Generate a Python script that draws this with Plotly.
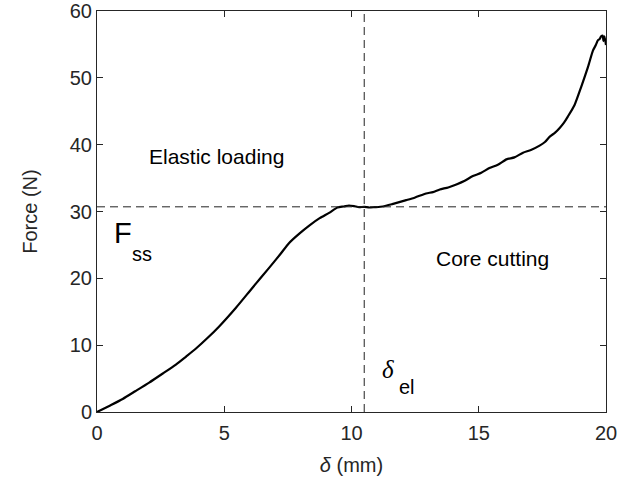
import plotly.graph_objects as go

# Force-displacement curve
delta_mm = [0, 0.5, 1.01, 1.5, 2.05, 2.6, 3.1, 3.5, 3.89, 4.35, 4.8, 5.46, 6.11, 6.77, 7.2, 7.55,
            7.95, 8.34, 8.75, 9.12, 9.45, 9.7, 9.9, 10.1, 10.3, 10.5, 10.7, 10.9, 11.23, 11.6,
            12.15, 12.5, 12.93, 13.2, 13.47, 13.8, 14.12, 14.45, 14.77, 15.1, 15.42, 15.75,
            16.09, 16.4, 16.74, 17.05, 17.39, 17.6, 17.79, 18.0, 18.18, 18.35, 18.5, 18.76,
            19.03, 19.29, 19.49, 19.6, 19.68, 19.75, 19.81, 19.87, 19.9, 19.94, 20.0]
force_N = [0, 0.95, 1.95, 3.1, 4.4, 5.8, 7.1, 8.3, 9.5, 11.1, 12.8, 15.6, 18.6, 21.6, 23.6, 25.3,
           26.7, 27.9, 29.0, 29.8, 30.6, 30.75, 30.9, 30.8, 30.65, 30.7, 30.6, 30.65, 30.75, 31.1,
           31.7, 32.1, 32.7, 32.9, 33.3, 33.6, 34.05, 34.6, 35.3, 35.8, 36.5, 37.0,
           37.8, 38.1, 38.8, 39.2, 39.85, 40.4, 41.2, 41.8, 42.5, 43.3, 44.2, 45.9,
           48.7, 51.6, 54.1, 54.9, 55.6, 55.8, 56.2, 56.3, 55.5, 56.2, 54.9]

F_ss = 30.7       # steady-state force
delta_el = 10.5   # end of elastic loading

x_ticks = [0, 5, 10, 15, 20]
y_ticks = [0, 10, 20, 30, 40, 50, 60]

FONT = "Liberation Sans, Arial, Helvetica, sans-serif"
AX = "#262626"

fig = go.Figure()
fig.add_trace(go.Scatter(x=delta_mm, y=force_N, mode="lines",
                         line=dict(color="black", width=2.2, shape="spline", smoothing=0.6),
                         showlegend=False, hoverinfo="skip"))

fig.add_shape(type="line", xref="x", yref="y", x0=0, x1=20, y0=F_ss, y1=F_ss,
              line=dict(color="#222222", width=1, dash="8px,5px"))
fig.add_shape(type="line", xref="x", yref="y", x0=delta_el, x1=delta_el, y0=0, y1=60,
              line=dict(color="#222222", width=1, dash="8px,5px"))

fig.add_annotation(x=4.68, y=38.2, text="Elastic loading", showarrow=False,
                   font=dict(family=FONT, size=21, color="black"))
fig.add_annotation(x=15.55, y=23.0, text="Core cutting", showarrow=False,
                   font=dict(family=FONT, size=21, color="black"))
fig.add_annotation(x=0.6, y=26.8, text="F", showarrow=False, xanchor="left",
                   font=dict(family=FONT, size=29, color="black"))
fig.add_annotation(x=1.3, y=23.7, text="ss", showarrow=False, xanchor="left",
                   font=dict(family=FONT, size=20, color="black"))
fig.add_annotation(x=11.1, y=6.3, text="<i>δ</i>", showarrow=False, xanchor="left",
                   font=dict(family="Liberation Serif, Times New Roman, serif", size=25, color="black"))
fig.add_annotation(x=11.77, y=3.7, text="el", showarrow=False, xanchor="left",
                   font=dict(family=FONT, size=20, color="black"))

axis_common = dict(showline=True, linecolor=AX, linewidth=1, mirror="ticks",
                   ticks="inside", ticklen=6, tickcolor=AX, tickwidth=1,
                   showgrid=False, zeroline=False, automargin=False,
                   tickfont=dict(family=FONT, size=20, color=AX))

fig.update_xaxes(range=[0, 20], tickvals=x_ticks, ticktext=[str(v) for v in x_ticks],
                 ticklabelstandoff=3,
                 title=dict(text="<i>δ</i> (mm)", font=dict(family=FONT, size=20, color=AX), standoff=14),
                 **axis_common)
fig.update_yaxes(range=[0, 60], tickvals=y_ticks, ticktext=[str(v) for v in y_ticks],
                 title=dict(text="Force (N)", font=dict(family=FONT, size=20, color=AX), standoff=26),
                 **axis_common)

fig.update_layout(width=639, height=483, margin=dict(l=97, r=33, t=11, b=71),
                  plot_bgcolor="white", paper_bgcolor="white")

fig.write_html("out.html")
